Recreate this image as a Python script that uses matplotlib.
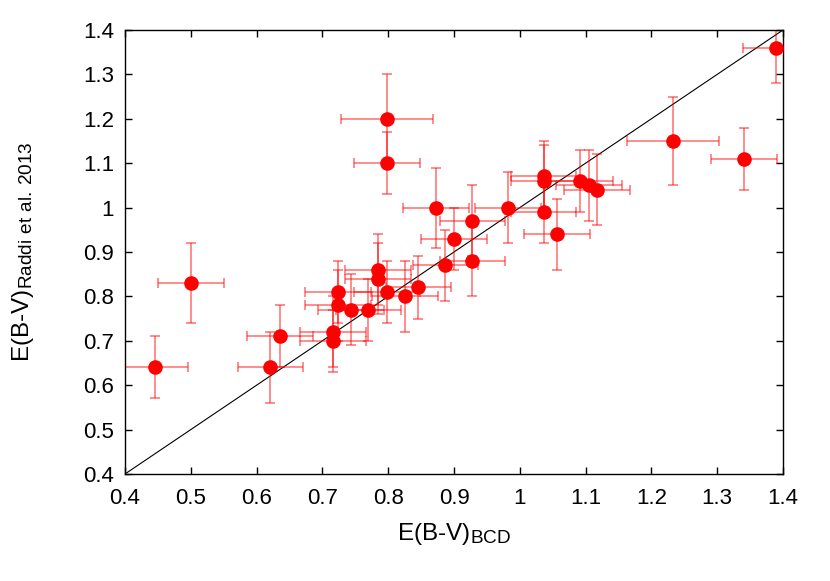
import matplotlib
matplotlib.use('Agg')
import matplotlib.pyplot as plt
import matplotlib._mathtext as mathtext_internal

plt.rcParams['font.family'] = ['Liberation Sans', 'DejaVu Sans']
plt.rcParams['mathtext.default'] = 'regular'
# subscripts in the original are a bit larger than matplotlib's default
mathtext_internal.SHRINK_FACTOR = 0.78

# E(B-V) BCD vs E(B-V) Raddi et al. 2013
ebv_bcd = [0.445, 0.500, 0.621, 0.636, 0.716, 0.716, 0.724, 0.724, 0.743, 0.770,
           0.785, 0.785, 0.798, 0.825, 0.846, 0.887, 0.798, 0.798, 0.873, 0.928,
           0.900, 0.928, 0.982, 1.036, 1.036, 1.036, 1.057, 1.091, 1.105, 1.117,
           1.233, 1.341, 1.389]
ebv_raddi = [0.64, 0.83, 0.64, 0.71, 0.72, 0.70, 0.78, 0.81, 0.77, 0.77,
             0.86, 0.84, 0.81, 0.80, 0.82, 0.87, 1.20, 1.10, 1.00, 0.97,
             0.93, 0.88, 1.00, 1.07, 1.06, 0.99, 0.94, 1.06, 1.05, 1.04,
             1.15, 1.11, 1.36]
err_bcd = [0.05, 0.05, 0.05, 0.05, 0.05, 0.05, 0.05, 0.05, 0.05, 0.05,
           0.05, 0.05, 0.05, 0.05, 0.05, 0.05, 0.07, 0.05, 0.05, 0.05,
           0.05, 0.05, 0.05, 0.05, 0.05, 0.05, 0.05, 0.05, 0.05, 0.05,
           0.07, 0.05, 0.05]
err_raddi = [0.07, 0.09, 0.08, 0.07, 0.08, 0.07, 0.08, 0.07, 0.08, 0.07,
             0.08, 0.08, 0.07, 0.08, 0.07, 0.08, 0.10, 0.07, 0.09, 0.08,
             0.07, 0.08, 0.08, 0.08, 0.08, 0.07, 0.08, 0.07, 0.08, 0.08,
             0.10, 0.07, 0.08]

ticks = [0.4, 0.5, 0.6, 0.7, 0.8, 0.9, 1.0, 1.1, 1.2, 1.3, 1.4]
tick_labels = ['%g' % t for t in ticks]

fig = plt.figure(figsize=(8.3, 5.81), dpi=100)
ax = fig.add_axes([0.1506, 0.1842, 0.7928, 0.7642])

ax.plot([0.4, 1.4], [0.4, 1.4], color='black', lw=0.8, zorder=1)

ax.errorbar(ebv_bcd, ebv_raddi, xerr=err_bcd, yerr=err_raddi, fmt='none',
            ecolor=(1, 0, 0, 0.45), elinewidth=1.4, capsize=3.5, capthick=1.4,
            zorder=2)
ax.plot(ebv_bcd, ebv_raddi, 'o', color='red', ms=9.5, mec='red', zorder=3)

ax.set_xlim(0.4, 1.4)
ax.set_ylim(0.4, 1.4)
ax.set_xticks(ticks)
ax.set_xticklabels(tick_labels)
ax.set_yticks(ticks)
ax.set_yticklabels(tick_labels)
ax.tick_params(direction='in', top=True, right=True, length=5, width=1,
               labelsize=16)
ax.tick_params(axis='x', pad=10)
ax.tick_params(axis='y', pad=8)
for s in ax.spines.values():
    s.set_linewidth(1)

ax.set_xlabel('E(B-V)$_{BCD}$', fontsize=17.5, labelpad=9)
ax.set_ylabel('E(B-V)$_{Raddi\\ et\\ al.\\,2013}$', fontsize=17.5)
ax.yaxis.set_label_coords(-0.135, 0.5)

plt.savefig('out.png', dpi=100)
